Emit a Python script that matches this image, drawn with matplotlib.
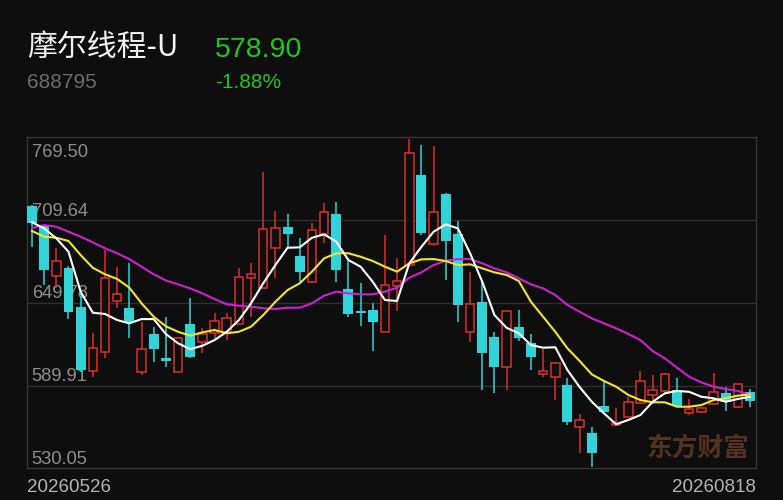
import matplotlib
matplotlib.use("Agg")
import matplotlib.pyplot as plt
from matplotlib.transforms import offset_copy
import numpy as np

# header text
stock_name = "摩尔线程-U"
stock_code = "688795"
last_price = "578.90"
change_pct = "-1.88%"

# axis labels
price_ticks = [769.50, 709.64, 649.78, 589.91, 530.05]
start_date = "20260526"
end_date = "20260818"

# daily candles
opens = [719.8, 706.1, 669.4, 674.7, 647.0, 600.4, 614.4, 651.1, 645.8, 599.5,
         627.0, 610.1, 599.9, 634.4, 621.2, 627.7, 628.9, 634.2, 667.9, 660.3,
         689.2, 704.8, 683.9, 664.6, 699.3, 713.8, 659.5, 643.5, 644.6, 628.9,
         662.1, 677.1, 742.2, 692.1, 728.3, 699.3, 628.9, 650.6, 625.3, 603.1,
         632.5, 620.5, 598.3, 596.3, 590.3, 560.1, 555.4, 575.3, 561.5, 567.4,
         577.1, 583.1, 586.0, 586.7, 570.3, 571.0, 576.3, 584.3, 574.6, 584.9]
highs = [720.5, 707.0, 689.2, 676.6, 659.0, 627.7, 688.0, 675.9, 678.4, 635.7,
         632.0, 639.7, 625.3, 653.0, 631.8, 642.2, 642.2, 675.2, 678.4, 744.2,
         716.2, 713.8, 696.9, 707.3, 721.8, 722.9, 682.0, 663.9, 649.4, 698.8,
         682.0, 768.3, 764.0, 763.4, 729.0, 709.0, 671.8, 665.0, 628.9, 644.5,
         644.6, 627.0, 616.4, 607.0, 595.6, 569.1, 560.1, 592.3, 573.7, 581.9,
         600.4, 597.5, 599.0, 595.2, 580.0, 574.5, 599.2, 588.6, 591.0, 587.4]
lows = [690.4, 662.7, 660.3, 637.8, 600.0, 596.3, 610.1, 645.8, 624.1, 597.5,
        607.2, 603.5, 599.5, 610.0, 613.2, 623.6, 622.9, 633.5, 639.7, 659.9,
        667.9, 690.4, 665.0, 664.0, 692.8, 665.0, 639.7, 633.2, 614.9, 628.5,
        643.8, 676.0, 699.0, 691.0, 666.3, 636.1, 621.6, 586.7, 584.3, 586.7,
        622.1, 601.2, 595.9, 579.5, 561.4, 540.9, 531.2, 570.5, 561.0, 567.0,
        576.8, 576.3, 585.5, 575.0, 568.6, 570.0, 576.0, 571.5, 574.0, 574.6]
closes = [707.3, 673.5, 680.0, 643.3, 601.2, 616.9, 667.5, 655.9, 634.9, 616.1,
          616.4, 607.7, 624.1, 610.8, 627.0, 636.8, 639.0, 668.7, 670.4, 703.2,
          704.1, 699.3, 672.3, 702.4, 715.7, 673.5, 641.5, 642.5, 635.7, 662.7,
          665.5, 757.9, 700.1, 715.2, 694.5, 648.2, 648.7, 613.2, 603.5, 644.1,
          624.1, 610.8, 600.7, 606.4, 563.8, 565.0, 540.9, 571.0, 562.5, 578.2,
          593.2, 586.7, 598.3, 575.3, 573.0, 573.5, 584.9, 578.2, 590.8, 578.9]

# moving averages as drawn on the chart
ma5 = [708.0, 703.6, 696.4, 686.7, 657.8, 642.6, 641.7, 637.3, 634.9, 638.0,
       638.0, 627.2, 620.5, 616.3, 618.7, 622.8, 628.8, 637.3, 649.4, 663.9,
       677.1, 689.6, 689.9, 696.8, 699.3, 694.0, 680.7, 675.9, 665.0, 651.8,
       651.1, 678.3, 690.3, 701.2, 706.5, 703.6, 685.6, 665.0, 640.9, 631.7,
       627.7, 619.2, 617.3, 617.6, 601.1, 588.8, 578.2, 569.8, 561.9, 565.0,
       568.6, 578.2, 584.3, 586.0, 585.4, 581.8, 580.7, 578.2, 580.2, 581.8]
ma10 = [701.7, 697.6, 696.8, 694.5, 684.3, 675.1, 670.4, 667.0, 660.7, 649.4,
        639.7, 632.8, 628.8, 626.0, 628.4, 630.1, 627.7, 628.8, 632.5, 640.9,
        650.5, 659.0, 663.9, 672.3, 681.9, 685.6, 685.6, 683.1, 680.0, 675.9,
        672.3, 678.3, 681.2, 681.4, 680.0, 677.1, 677.6, 674.7, 671.8, 669.9,
        665.5, 650.5, 639.7, 628.8, 616.8, 607.7, 598.0, 593.2, 589.1, 583.1,
        579.4, 577.8, 577.8, 574.6, 574.6, 575.8, 579.4, 580.7, 582.6, 583.6]
ma20 = [703.9, 706.0, 704.8, 701.2, 697.6, 693.5, 689.2, 685.6, 681.4, 675.9,
        670.4, 665.9, 663.1, 660.2, 656.6, 652.5, 648.7, 647.7, 646.9, 645.8,
        645.3, 646.2, 646.2, 649.4, 654.9, 657.8, 656.6, 655.9, 655.9, 657.8,
        660.7, 667.9, 671.8, 677.1, 680.2, 681.4, 681.4, 678.3, 674.7, 671.8,
        667.5, 663.1, 660.2, 655.4, 648.2, 643.3, 638.5, 634.9, 631.3, 627.2,
        622.8, 614.9, 609.6, 602.8, 596.3, 592.2, 589.1, 587.4, 586.0, 583.1]

bg = "#0e0e0e"
up_color = "#dc2f2a"
down_color = "#2fd3d8"
grid_color = "#2e2e2e"

W, H = 783, 500
fig = plt.figure(figsize=(W / 100, H / 100), dpi=100, facecolor=bg)
ax = fig.add_axes([27 / W, 1 - 468.3 / H, (755.5 - 27) / W, (468.3 - 137.3) / H])
ax.set_facecolor(bg)

o = np.array(opens)
c = np.array(closes)
hi = np.array(highs)
lo = np.array(lows)
x = np.arange(len(c))
up = c >= o
body_lo = np.minimum(o, c)
body_hi = np.maximum(o, c)
body_h = np.maximum(body_hi - body_lo, 0.8)

# wicks
for mask, col in [(up, up_color), (~up, down_color)]:
    ax.vlines(x[mask], lo[mask], body_lo[mask], color=col, lw=1.1, zorder=3)
    ax.vlines(x[mask], body_hi[mask], hi[mask], color=col, lw=1.1, zorder=3)

# bodies: hollow red for up days, solid cyan for down days
ax.bar(x[up], body_h[up], bottom=body_lo[up], width=0.7, facecolor=bg,
       edgecolor=up_color, linewidth=1.1, zorder=4)
ax.bar(x[~up], body_h[~up], bottom=body_lo[~up], width=0.82,
       color=down_color, linewidth=0, zorder=4)

ax.plot(x, ma20, color="#cf1fd0", lw=1.5, zorder=5)
ax.plot(x, ma10, color="#f3e52c", lw=1.5, zorder=5)
ax.plot(x, ma5, color="#ffffff", lw=1.5, zorder=6)

ax.set_xlim(-0.41, len(c) - 0.55)
ax.set_ylim(price_ticks[-1], price_ticks[0])
ax.set_xticks([])
ax.set_yticks([])
for p in price_ticks[1:-1]:
    ax.axhline(p, color=grid_color, lw=1.0, zorder=1)
for s in ax.spines.values():
    s.set_color("#363636")
    s.set_linewidth(1.0)

# price labels inside the plot
yt = ax.get_yaxis_transform()
lab_font = dict(family=["Liberation Sans", "DejaVu Sans"], fontsize=13.2, color="#8e8e8e")
ax.text(0.0065, price_ticks[0], f"{price_ticks[0]:.2f}", va="baseline", ha="left",
        transform=offset_copy(yt, fig, y=-19.7, units="dots"), zorder=2, **lab_font)
for p in price_ticks[1:]:
    ax.text(0.0065, p, f"{p:.2f}", va="baseline", ha="left",
            transform=offset_copy(yt, fig, y=4.5, units="dots"), zorder=2, **lab_font)

# watermark
ax.text(0.992, 0.02, "东方财富", transform=ax.transAxes, ha="right", va="bottom",
        family=["Noto Sans CJK SC"], fontweight="bold", fontsize=18.5,
        color="#55321f", zorder=2)

# header
fig.text(27 / W, 1 - 47.5 / H, stock_name, family=["Noto Sans CJK SC", "DejaVu Sans"],
         fontsize=21.5, color="#f2f2f2", va="center", ha="left")
fig.text(215 / W, 1 - 57 / H, last_price, family=["Liberation Sans", "DejaVu Sans"],
         fontsize=20.5, color="#22c422", va="baseline", ha="left")
fig.text(27 / W, 1 - 88 / H, stock_code, family=["Liberation Sans", "DejaVu Sans"],
         fontsize=15, color="#6c6c6c", va="baseline", ha="left")
fig.text(215 / W, 1 - 88 / H, change_pct, family=["Liberation Sans", "DejaVu Sans"],
         fontsize=15, color="#22c422", va="baseline", ha="left")

# dates under the plot
date_font = dict(family=["Liberation Sans", "DejaVu Sans"], fontsize=13.5, color="#b4b4b4")
fig.text(27 / W, 1 - 491.7 / H, start_date, va="baseline", ha="left", **date_font)
fig.text(755.5 / W, 1 - 491.7 / H, end_date, va="baseline", ha="right", **date_font)

fig.savefig("out.png", dpi=100, facecolor=bg)
